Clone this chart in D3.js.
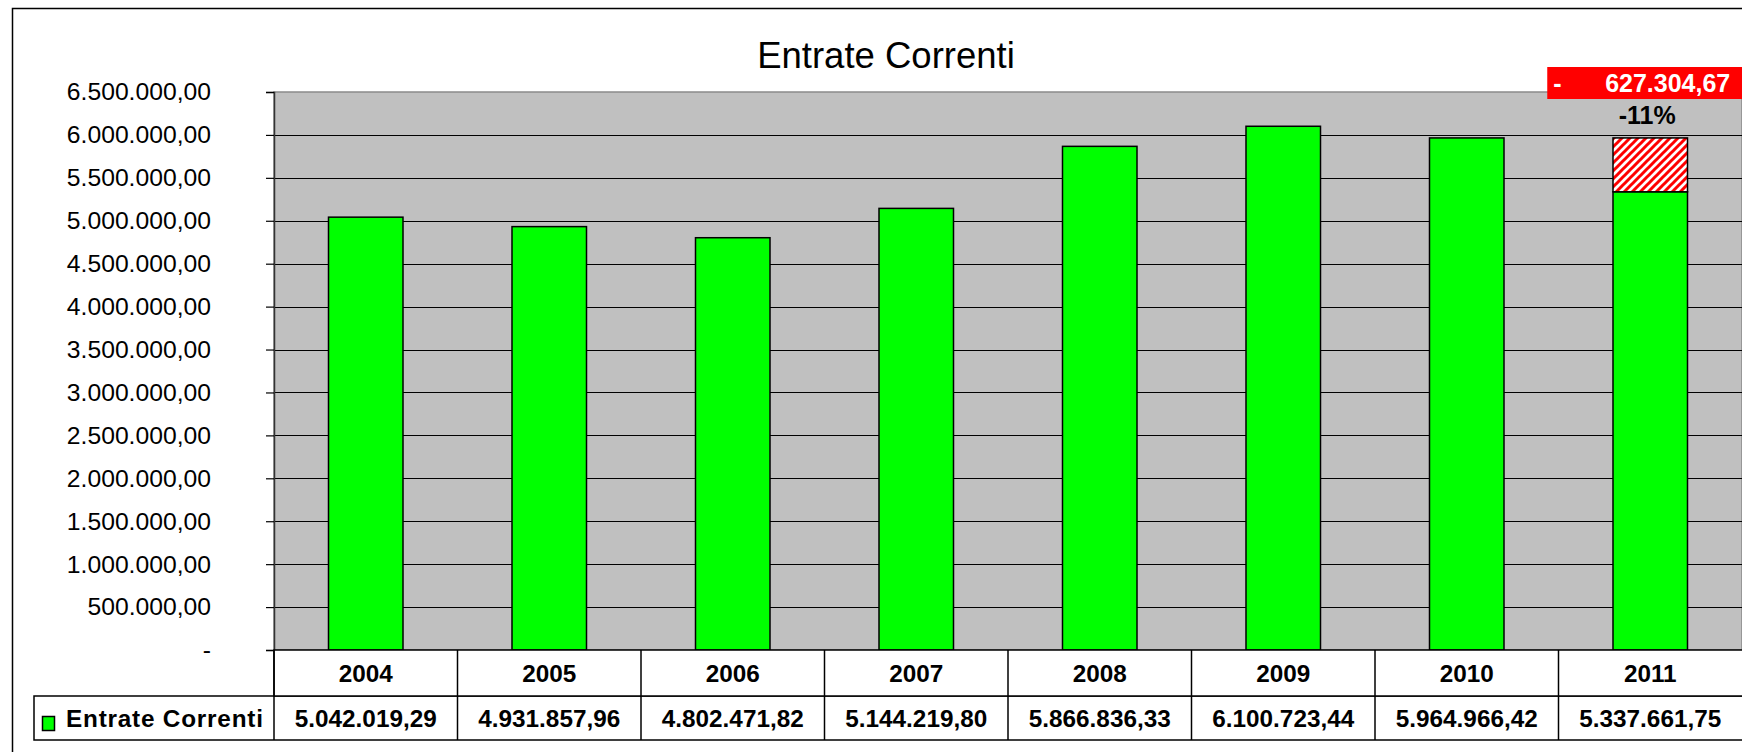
<!DOCTYPE html>
<html>
<head>
<meta charset="utf-8">
<script src="https://cdn.jsdelivr.net/npm/d3@7"></script>
<style>
  html, body { margin: 0; padding: 0; background: #fff; }
  svg { display: block; font-family: "Liberation Sans", Arial, sans-serif; }
</style>
</head>
<body>
<svg id="chart" width="1742" height="752"></svg>
<script>
// Entrate Correnti 2004-2011

const years = ["2004", "2005", "2006", "2007", "2008", "2009", "2010", "2011"];
const entrate = [5042019.29, 4931857.96, 4802471.82, 5144219.80, 5866836.33, 6100723.44, 5964966.42, 5337661.75];
// hatched segment: drop compared to the previous year (only 2011)
const calo = [0, 0, 0, 0, 0, 0, 0, 627304.67];
const caloPct = ["", "", "", "", "", "", "", "-11%"];
const yTicks = [0, 500000, 1000000, 1500000, 2000000, 2500000, 3000000, 3500000,
  4000000, 4500000, 5000000, 5500000, 6000000, 6500000];

const svg = d3.select('#chart');

const plot = { left: 274, right: 1742, top: 92, bottom: 650 };
const rowH = [46, 44]; // years row, values row

const it = d3.formatLocale({ decimal: ",", thousands: ".", grouping: [3], currency: ["", ""] });
const fmt = it.format(",.2f");
const fmtTick = v => v === 0 ? "-" : fmt(v);

const x = d3.scaleBand()
  .domain(years)
  .range([plot.left, plot.right])
  .paddingInner(0)
  .paddingOuter(0);

const y = d3.scaleLinear()
  .domain([0, 6500000])
  .range([plot.bottom, plot.top]);

const barW = x.bandwidth() * 0.406;

// hatch pattern
const defs = svg.append('defs');
const pat = defs.append('pattern')
  .attr('id', 'hatch')
  .attr('patternUnits', 'userSpaceOnUse')
  .attr('width', 8)
  .attr('height', 8);
pat.append('rect').attr('width', 8).attr('height', 8).attr('fill', '#fff');
pat.append('path')
  .attr('d', 'M-2,2 L2,-2 M0,8 L8,0 M6,10 L10,6')
  .attr('stroke', '#ff0000')
  .attr('stroke-width', 3);

// outer frame
svg.append('rect')
  .attr('x', 12.5).attr('y', 8.5)
  .attr('width', 1800).attr('height', 800)
  .attr('fill', '#fff')
  .attr('stroke', '#000')
  .attr('stroke-width', 1.5);

// title
svg.append('text')
  .attr('x', 886)
  .attr('y', 68)
  .attr('text-anchor', 'middle')
  .attr('font-size', 36.5)
  .attr('fill', '#000')
  .text('Entrate Correnti');

// plot background
svg.append('rect')
  .attr('x', plot.left).attr('y', plot.top)
  .attr('width', plot.right - plot.left)
  .attr('height', plot.bottom - plot.top)
  .attr('fill', '#c0c0c0')
  .attr('stroke', '#8a8a8a')
  .attr('stroke-width', 1.5);

// gridlines
svg.append('g')
  .selectAll('line')
  .data(yTicks.filter(d => d > 0 && d < 6500000))
  .join('line')
  .attr('x1', plot.left).attr('x2', plot.right)
  .attr('y1', d => Math.round(y(d)) + 0.5)
  .attr('y2', d => Math.round(y(d)) + 0.5)
  .attr('stroke', '#000')
  .attr('stroke-width', 1.2);

// y axis
const yAxis = svg.append('g')
  .attr('transform', `translate(${plot.left},0)`)
  .call(d3.axisLeft(y).tickValues(yTicks).tickFormat(fmtTick).tickSizeOuter(0).tickSize(8).tickPadding(55));
yAxis.select('.domain').attr('stroke', '#333').attr('stroke-width', 1.5);
yAxis.selectAll('.tick line').attr('stroke', '#000').attr('stroke-width', 1.2);
yAxis.selectAll('.tick text')
  .attr('font-size', 24.7)
  .attr('fill', '#000')
  .attr('font-family', '"Liberation Sans", Arial, sans-serif');

// bars
svg.append('g')
  .selectAll('rect')
  .data(years.map((yr, i) => ({ yr, v: entrate[i] })))
  .join('rect')
  .attr('x', d => x(d.yr) + (x.bandwidth() - barW) / 2)
  .attr('y', d => y(d.v))
  .attr('width', barW)
  .attr('height', d => y(0) - y(d.v))
  .attr('fill', '#00ff00')
  .attr('stroke', '#000')
  .attr('stroke-width', 1.5);

// hatched drop segment
const drops = years.map((yr, i) => ({ yr, base: entrate[i], v: calo[i], pct: caloPct[i] }))
  .filter(d => d.v > 0);

svg.append('g')
  .selectAll('rect')
  .data(drops)
  .join('rect')
  .attr('x', d => x(d.yr) + (x.bandwidth() - barW) / 2)
  .attr('y', d => y(d.base + d.v))
  .attr('width', barW)
  .attr('height', d => y(d.base) - y(d.base + d.v))
  .attr('fill', 'url(#hatch)')
  .attr('stroke', '#000')
  .attr('stroke-width', 1.5);

// drop labels
const lab = svg.append('g').selectAll('g').data(drops).join('g');
lab.append('rect')
  .attr('x', d => x(d.yr) + x.bandwidth() / 2 - 103)
  .attr('y', 67)
  .attr('width', 220)
  .attr('height', 32)
  .attr('fill', '#ff0000');
lab.append('text')
  .attr('x', d => x(d.yr) + x.bandwidth() / 2 - 97)
  .attr('y', 83)
  .attr('dy', '0.35em')
  .attr('font-size', 25)
  .attr('font-weight', 'bold')
  .attr('fill', '#fff')
  .text('-');
lab.append('text')
  .attr('x', d => x(d.yr) + x.bandwidth() / 2 + 80)
  .attr('y', 83)
  .attr('dy', '0.35em')
  .attr('text-anchor', 'end')
  .attr('font-size', 25)
  .attr('font-weight', 'bold')
  .attr('fill', '#fff')
  .text(d => fmt(d.v));
lab.append('text')
  .attr('x', d => x(d.yr) + x.bandwidth() / 2 - 3)
  .attr('y', 115)
  .attr('dy', '0.35em')
  .attr('text-anchor', 'middle')
  .attr('font-size', 25)
  .attr('font-weight', 'bold')
  .attr('fill', '#000')
  .text(d => d.pct);

// data table
const t0 = plot.bottom;
const t1 = t0 + rowH[0];
const t2 = t1 + rowH[1];
const table = svg.append('g').attr('stroke', '#000').attr('stroke-width', 1.5);

table.append('rect')
  .attr('x', 34).attr('y', t1)
  .attr('width', plot.right - 34 + 10).attr('height', rowH[1])
  .attr('fill', '#fff');
table.append('rect')
  .attr('x', plot.left).attr('y', t0)
  .attr('width', plot.right - plot.left + 10).attr('height', rowH[0])
  .attr('fill', '#fff');
table.append('line')
  .attr('x1', plot.left).attr('x2', plot.left)
  .attr('y1', t0).attr('y2', t2);
table.selectAll('line.sep')
  .data(years.slice(1))
  .join('line')
  .attr('class', 'sep')
  .attr('x1', d => x(d)).attr('x2', d => x(d))
  .attr('y1', t0).attr('y2', t2);

svg.append('g')
  .selectAll('text')
  .data(years)
  .join('text')
  .attr('x', d => x(d) + x.bandwidth() / 2)
  .attr('y', (t0 + t1) / 2)
  .attr('dy', '0.35em')
  .attr('text-anchor', 'middle')
  .attr('font-size', 24.3)
  .attr('font-weight', 'bold')
  .text(d => d);

svg.append('g')
  .selectAll('text')
  .data(years.map((yr, i) => ({ yr, v: entrate[i] })))
  .join('text')
  .attr('x', d => x(d.yr) + x.bandwidth() / 2)
  .attr('y', (t1 + t2) / 2)
  .attr('dy', '0.35em')
  .attr('text-anchor', 'middle')
  .attr('font-size', 24.3)
  .attr('font-weight', 'bold')
  .text(d => fmt(d.v));

// legend key
svg.append('rect')
  .attr('x', 42.5).attr('y', 716.5)
  .attr('width', 12).attr('height', 14)
  .attr('fill', '#00ff00')
  .attr('stroke', '#000')
  .attr('stroke-width', 1.5);
svg.append('text')
  .attr('x', 66)
  .attr('y', (t1 + t2) / 2)
  .attr('dy', '0.35em')
  .attr('font-size', 24.3)
  .attr('font-weight', 'bold')
  .attr('letter-spacing', 0.8)
  .text('Entrate Correnti');
</script>
</body>
</html>
